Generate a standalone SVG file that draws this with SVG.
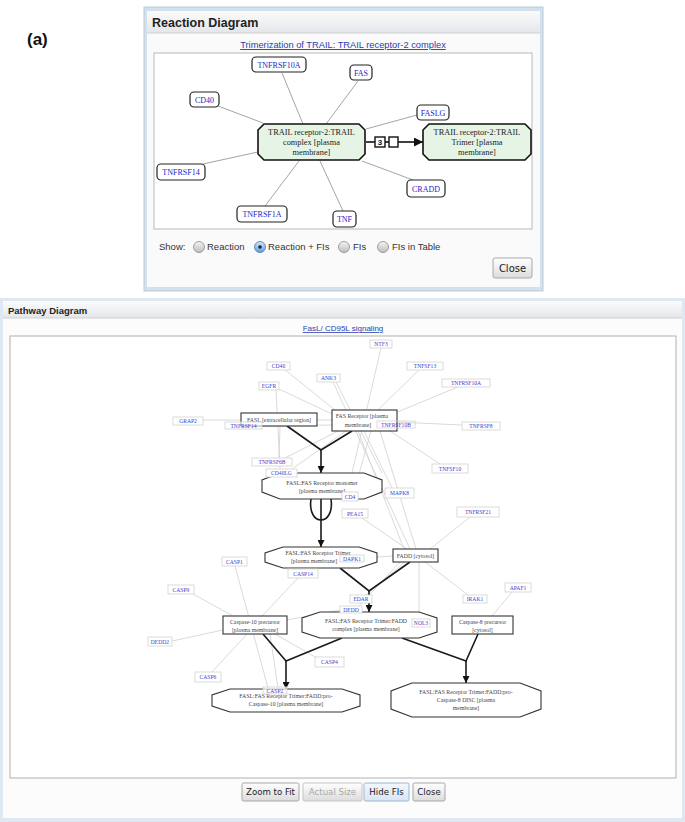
<svg xmlns="http://www.w3.org/2000/svg" width="685" height="822" viewBox="0 0 685 822">
<defs>
<linearGradient id="hdr" x1="0" y1="0" x2="0" y2="1"><stop offset="0" stop-color="#fbfbfb"/><stop offset="1" stop-color="#e3e6ea"/></linearGradient>
<linearGradient id="btn" x1="0" y1="0" x2="0" y2="1"><stop offset="0" stop-color="#ffffff"/><stop offset="1" stop-color="#dcdcdc"/></linearGradient>
<linearGradient id="btnsel" x1="0" y1="0" x2="0" y2="1"><stop offset="0" stop-color="#f3f8fd"/><stop offset="1" stop-color="#d6e6f6"/></linearGradient>
<linearGradient id="rad" x1="0" y1="0" x2="0" y2="1"><stop offset="0" stop-color="#f4f4f4"/><stop offset="1" stop-color="#bdbdbd"/></linearGradient>
<linearGradient id="radsel" x1="0" y1="0" x2="0" y2="1"><stop offset="0" stop-color="#d4e8fb"/><stop offset="1" stop-color="#5f9fdc"/></linearGradient>
<marker id="ar" viewBox="0 0 10 10" refX="10" refY="5" markerWidth="7" markerHeight="7" orient="auto" markerUnits="userSpaceOnUse"><path d="M0,0 L10,5 L0,10 z" fill="#111"/></marker>
<marker id="arA" viewBox="0 0 10 10" refX="10" refY="5" markerWidth="9" markerHeight="9" orient="auto" markerUnits="userSpaceOnUse"><path d="M0,0 L10,5 L0,10 z" fill="#111"/></marker>
</defs>
<style>
.lbl{font-family:"Liberation Sans",Arial,sans-serif;font-weight:bold;font-size:17px;fill:#111}
.hd{font-family:"Liberation Sans",Arial,sans-serif;font-weight:bold;fill:#222}
.link{font-family:"Liberation Sans",Arial,sans-serif;fill:#2a3fb0;text-decoration:underline;text-anchor:middle}
.afi rect{fill:#fff;stroke:#222;stroke-width:1.2}
.afi text{font-family:"Liberation Serif","Times New Roman",serif;font-size:8px;fill:#2424c8;text-anchor:middle}
.anode path{fill:#e6f4e6;stroke:#111;stroke-width:1.6}
.anode text{font-family:"Liberation Serif","Times New Roman",serif;font-size:8.3px;fill:#222;text-anchor:middle}
.agl{stroke:#9a9a9a;stroke-width:0.9}
.opt{font-family:"Liberation Sans",Arial,sans-serif;font-size:9.5px;fill:#333}
.fi rect{fill:#fff;stroke:#d2d2d2;stroke-width:0.8}
.fi text{font-family:"Liberation Serif","Times New Roman",serif;font-size:5.6px;fill:#4040cc;text-anchor:middle}
.nd rect,.nd path{fill:#fff;stroke:#333;stroke-width:1.1}
.nd text{font-family:"Liberation Serif","Times New Roman",serif;font-size:5.8px;fill:#444;text-anchor:middle}
.gl line{stroke:#d0d0d0;stroke-width:0.8}
.bk{stroke:#1a1a1a;stroke-width:1.6;fill:none}
.bt{font-family:"DejaVu Sans","Liberation Sans",sans-serif;font-size:8.6px;fill:#222;text-anchor:middle}
</style>

<rect width="685" height="822" fill="#fff"/>

<text class="lbl" x="27" y="45">(a)</text>
<text class="lbl" x="25" y="362">(b)</text>

<!-- ===== Panel (a) window ===== -->
<g id="panelA">
<rect x="144" y="7" width="399" height="284" fill="#d3e1ee" stroke="#b9c9d9" stroke-width="1"/>
<rect x="147" y="11" width="393" height="276" fill="#fafafa"/>
<rect x="147" y="11" width="393" height="22" fill="url(#hdr)"/>
<line x1="147" y1="33" x2="540" y2="33" stroke="#cfcfcf"/>
<text class="hd" x="152" y="27" font-size="12.5">Reaction Diagram</text>
<text class="link" x="343" y="48" font-size="9.3">Trimerization of TRAIL: TRAIL receptor-2 complex</text>
<rect x="154" y="53" width="378" height="176" fill="#fff" stroke="#b8b8b8" stroke-width="1"/>
</g>

<g id="connA">
<line class="agl" x1="282" y1="73" x2="303" y2="124"/>
<line class="agl" x1="358" y1="81" x2="326" y2="124"/>
<line class="agl" x1="218" y1="106" x2="263" y2="123"/>
<line class="agl" x1="417" y1="115" x2="366" y2="129"/>
<line class="agl" x1="203" y1="164" x2="258" y2="152"/>
<line class="agl" x1="413" y1="180" x2="362" y2="161"/>
<line class="agl" x1="265" y1="206" x2="299" y2="161"/>
<line class="agl" x1="343" y1="211" x2="320" y2="161"/>
<line x1="366" y1="142" x2="375" y2="142" stroke="#111" stroke-width="1.6"/>
<rect x="375" y="137" width="10" height="10" fill="#fff" stroke="#111" stroke-width="1.4"/>
<text x="380" y="145.3" font-family="Liberation Sans,Arial,sans-serif" font-size="8" font-weight="bold" text-anchor="middle" fill="#111">3</text>
<line x1="385" y1="142" x2="389" y2="142" stroke="#111" stroke-width="1.6"/>
<rect x="389" y="137" width="9" height="10" fill="#fff" stroke="#111" stroke-width="1.4"/>
<line x1="398" y1="142" x2="423" y2="142" stroke="#111" stroke-width="1.6" marker-end="url(#arA)"/>
</g>

<g id="a_TNFRSF10A" class="afi"><rect x="252" y="57" width="54" height="15" rx="4"/><text x="279" y="67.8">TNFRSF10A</text></g>
<g id="a_FAS" class="afi"><rect x="350" y="65" width="22" height="15" rx="4"/><text x="361" y="75.8">FAS</text></g>
<g id="a_CD40" class="afi"><rect x="190" y="92" width="29" height="15" rx="4"/><text x="204.5" y="102.8">CD40</text></g>
<g id="a_FASLG" class="afi"><rect x="417" y="105" width="32" height="15" rx="4"/><text x="433" y="115.8">FASLG</text></g>
<g id="a_TNFRSF14" class="afi"><rect x="157" y="164" width="48" height="16" rx="4"/><text x="181" y="175.3">TNFRSF14</text></g>
<g id="a_CRADD" class="afi"><rect x="407" y="180" width="38" height="17" rx="4"/><text x="426" y="191.5">CRADD</text></g>
<g id="a_TNFRSF1A" class="afi"><rect x="237" y="206" width="50" height="16" rx="4"/><text x="262" y="217.3">TNFRSF1A</text></g>
<g id="a_TNF" class="afi"><rect x="333" y="211" width="23" height="16" rx="4"/><text x="344.5" y="222.3">TNF</text></g>

<g id="a_complex" class="anode">
<path d="M264,124 H359 L365,130 V154 L359,160 H264 L258,154 V130 Z"/>
<text x="311.5" y="135">TRAIL receptor-2:TRAIL</text>
<text x="311.5" y="145">complex [plasma</text>
<text x="311.5" y="155">membrane]</text>
</g>
<g id="a_trimer" class="anode">
<path d="M429,124 H525 L531,130 V154 L525,160 H429 L423,154 V130 Z"/>
<text x="477" y="135">TRAIL receptor-2:TRAIL</text>
<text x="477" y="145">Trimer [plasma</text>
<text x="477" y="155">membrane]</text>
</g>

<g id="a_controls">
<text class="opt" x="159" y="250">Show:</text>
<circle cx="199" cy="247" r="5.5" fill="url(#rad)" stroke="#8a8a8a" stroke-width="0.8"/>
<text class="opt" x="207" y="250">Reaction</text>
<circle cx="260" cy="247" r="5.5" fill="url(#radsel)" stroke="#4a76a8" stroke-width="0.8"/>
<circle cx="260" cy="247" r="1.8" fill="#1b2638"/>
<text class="opt" x="268" y="250">Reaction + FIs</text>
<circle cx="344" cy="247" r="5.5" fill="url(#rad)" stroke="#8a8a8a" stroke-width="0.8"/>
<text class="opt" x="353" y="250">FIs</text>
<circle cx="383" cy="247" r="5.5" fill="url(#rad)" stroke="#8a8a8a" stroke-width="0.8"/>
<text class="opt" x="392" y="250">FIs in Table</text>
<rect x="493" y="258" width="39" height="20" rx="2" fill="url(#btn)" stroke="#a8a8a8"/>
<text x="512.5" y="272" font-family="DejaVu Sans,Liberation Sans,sans-serif" font-size="10" text-anchor="middle" fill="#222">Close</text>
</g>

<!-- ===== Panel (b) window ===== -->
<g id="panelB">
<rect x="0" y="298" width="685" height="524" fill="#dde8f3"/>
<rect x="3" y="301" width="679" height="517" fill="#fcfcfc"/>
<rect x="3" y="301" width="679" height="17" fill="url(#hdr)"/>
<line x1="3" y1="318" x2="682" y2="318" stroke="#cfcfcf"/>
<text class="hd" x="8" y="313.5" font-size="9.5">Pathway Diagram</text>
<text class="link" x="343" y="331" font-size="8">FasL/ CD95L signaling</text>
<rect x="10" y="336" width="666" height="442" fill="#fff" stroke="#b0b0b0" stroke-width="1"/>
</g>

<g id="connB">
<g class="gl">
<line x1="381" y1="348" x2="352" y2="473"/>
<line x1="420" y1="369" x2="378" y2="410"/>
<line x1="458" y1="387" x2="395" y2="413"/>
<line x1="284" y1="369" x2="335" y2="410"/>
<line x1="279" y1="389" x2="332" y2="414"/>
<line x1="276" y1="390" x2="280" y2="469"/>
<line x1="333" y1="382" x2="410" y2="549"/>
<line x1="336" y1="382" x2="382" y2="473"/>
<line x1="203" y1="420" x2="332" y2="420"/>
<line x1="262" y1="426" x2="332" y2="425"/>
<line x1="462" y1="425" x2="397" y2="422"/>
<line x1="440" y1="464" x2="390" y2="431"/>
<line x1="392" y1="488" x2="364" y2="431"/>
<line x1="354" y1="492" x2="371" y2="431"/>
<line x1="358" y1="431" x2="404" y2="549"/>
<line x1="380" y1="431" x2="416" y2="549"/>
<line x1="338" y1="431" x2="285" y2="458"/>
<line x1="346" y1="431" x2="292" y2="469"/>
<line x1="280" y1="426" x2="279" y2="458"/>
<line x1="362" y1="518" x2="407" y2="549"/>
<line x1="470" y1="517" x2="430" y2="549"/>
<line x1="393" y1="556" x2="362" y2="558"/>
<line x1="400" y1="562" x2="358" y2="607"/>
<line x1="405" y1="562" x2="366" y2="595"/>
<line x1="419" y1="562" x2="419" y2="619"/>
<line x1="425" y1="562" x2="468" y2="595"/>
<line x1="512" y1="592" x2="492" y2="616"/>
<line x1="235" y1="566" x2="268" y2="688"/>
<line x1="298" y1="578" x2="262" y2="616"/>
<line x1="193" y1="594" x2="233" y2="616"/>
<line x1="172" y1="641" x2="223" y2="630"/>
<line x1="212" y1="672" x2="247" y2="634"/>
<line x1="317" y1="658" x2="275" y2="634"/>
<line x1="287" y1="620" x2="341" y2="610"/>
<line x1="270" y1="634" x2="278" y2="688"/>
</g>
<path class="bk" d="M287,426 L321,450 L352,431"/>
<line class="bk" x1="321" y1="450" x2="321" y2="473" marker-end="url(#ar)"/>
<path class="bk" d="M311,499 C307,527 335,527 331,499"/>
<line class="bk" x1="321" y1="499" x2="321" y2="547" marker-end="url(#ar)"/>
<path class="bk" d="M340,568 L369,591 L410,562"/>
<line class="bk" x1="369" y1="591" x2="369" y2="612" marker-end="url(#ar)"/>
<path class="bk" d="M263,634 L286,661 L342,638"/>
<line class="bk" x1="286" y1="661" x2="286" y2="689" marker-end="url(#ar)"/>
<path class="bk" d="M402,638 L466,661 L478,634"/>
<line class="bk" x1="466" y1="661" x2="466" y2="683" marker-end="url(#ar)"/>
</g>

<g id="b_FASL" class="nd"><rect x="241" y="413" width="76" height="13"/><text x="279" y="421.7">FASL [extracellular region]</text></g>
<g id="b_FASR" class="nd"><rect x="332" y="410" width="65" height="21"/><text x="362" y="418">FAS Receptor [plasma</text><text x="358" y="427">membrane]</text></g>
<g id="b_monomer" class="nd"><path d="M280,473 H364 L382,480 V492 L364,499 H280 L262,492 V480 Z"/><text x="322" y="485">FASL:FAS Receptor monomer</text><text x="322" y="493">[plasma membrane]</text></g>
<g id="b_trimer" class="nd"><path d="M283,547 H359 L377,553 V562 L359,568 H283 L265,562 V553 Z"/><text x="318" y="555">FASL:FAS Receptor Trimer</text><text x="314" y="563">[plasma membrane]</text></g>
<g id="b_FADD" class="nd"><rect x="393" y="549" width="45" height="13"/><text x="415.5" y="557.7">FADD [cytosol]</text></g>
<g id="b_complex" class="nd"><path d="M320,612 H419 L437,618 V632 L419,638 H320 L302,632 V618 Z"/><text x="366" y="623">FASL:FAS Receptor Trimer:FADD</text><text x="366" y="631">complex [plasma membrane]</text></g>
<g id="b_casp10" class="nd"><rect x="223" y="616" width="64" height="18"/><text x="255" y="624">Caspase-10 precursor</text><text x="255" y="631.5">[plasma membrane]</text></g>
<g id="b_casp8" class="nd"><rect x="452" y="616" width="61" height="18"/><text x="482.5" y="624">Caspase-8 precursor</text><text x="482.5" y="631.5">[cytosol]</text></g>
<g id="b_disc10" class="nd"><path d="M230,689 H342 L360,695 V706 L342,712 H230 L212,706 V695 Z"/><text x="286" y="698">FASL:FAS Receptor Trimer:FADD:pro-</text><text x="286" y="706">Caspase-10 [plasma membrane]</text></g>
<g id="b_disc8" class="nd"><path d="M412,683 H520 L541,691 V709 L520,717 H412 L391,709 V691 Z"/><text x="466" y="694">FASL:FAS Receptor Trimer:FADD:pro-</text><text x="466" y="702">Caspase-8 DISC [plasma</text><text x="466" y="709.5">membrane]</text></g>

<g id="b_NTF3" class="fi"><rect x="370" y="340" width="22" height="8"/><text x="381" y="346">NTF3</text></g>
<g id="b_TNFSF13" class="fi"><rect x="407" y="362" width="36" height="8"/><text x="425" y="368">TNFSF13</text></g>
<g id="b_CD40" class="fi"><rect x="267" y="362" width="23" height="8"/><text x="278.5" y="368">CD40</text></g>
<g id="b_ANK3" class="fi"><rect x="317" y="374" width="23" height="8"/><text x="328.5" y="380">ANK3</text></g>
<g id="b_TNFRSF10A" class="fi"><rect x="442" y="379" width="48" height="8"/><text x="466" y="385">TNFRSF10A</text></g>
<g id="b_EGFR" class="fi"><rect x="259" y="382" width="20" height="8"/><text x="269" y="388">EGFR</text></g>
<g id="b_GRAP2" class="fi"><rect x="173" y="417" width="30" height="8"/><text x="188" y="423">GRAP2</text></g>
<g id="b_TNFRSF14" class="fi"><rect x="225" y="422" width="37" height="7" fill-opacity="0.6"/><text x="243.5" y="427.5">TNFRSF14</text></g>
<g id="b_TNFRSF10B" class="fi"><rect x="377" y="421" width="38" height="7" fill-opacity="0"/><text x="396" y="426.8">TNFRSF10B</text></g>
<g id="b_TNFRSF8" class="fi"><rect x="462" y="422" width="38" height="8"/><text x="481" y="428">TNFRSF8</text></g>
<g id="b_TNFRSF6B" class="fi"><rect x="252" y="458" width="40" height="8"/><text x="272" y="464">TNFRSF6B</text></g>
<g id="b_CD40LG" class="fi"><rect x="266" y="469" width="31" height="8"/><text x="281.5" y="475">CD40LG</text></g>
<g id="b_TNFSF10" class="fi"><rect x="432" y="464" width="36" height="9"/><text x="450" y="470.5">TNFSF10</text></g>
<g id="b_CD4" class="fi"><rect x="342" y="492" width="16" height="9"/><text x="350" y="498.5">CD4</text></g>
<g id="b_MAPK8" class="fi"><rect x="385" y="488" width="29" height="10"/><text x="399.5" y="495">MAPK8</text></g>
<g id="b_PEA15" class="fi"><rect x="342" y="509" width="26" height="9"/><text x="355" y="515.5">PEA15</text></g>
<g id="b_TNFRSF21" class="fi"><rect x="457" y="507" width="42" height="10"/><text x="478" y="514">TNFRSF21</text></g>
<g id="b_DAPK1" class="fi"><rect x="340" y="555" width="24" height="7" fill-opacity="0"/><text x="352" y="560.5">DAPK1</text></g>
<g id="b_CASP1" class="fi"><rect x="222" y="557" width="25" height="9"/><text x="234.5" y="563.5">CASP1</text></g>
<g id="b_CASP14" class="fi"><rect x="288" y="569" width="30" height="9"/><text x="303" y="575.5">CASP14</text></g>
<g id="b_CASP9" class="fi"><rect x="168" y="585" width="26" height="9"/><text x="181" y="591.5">CASP9</text></g>
<g id="b_EDAR" class="fi"><rect x="350" y="595" width="22" height="8"/><text x="361" y="601">EDAR</text></g>
<g id="b_IRAK1" class="fi"><rect x="463" y="595" width="24" height="8"/><text x="475" y="601">IRAK1</text></g>
<g id="b_APAF1" class="fi"><rect x="505" y="583" width="26" height="9"/><text x="518" y="589.5">APAF1</text></g>
<g id="b_DEDD" class="fi"><rect x="340" y="606" width="22" height="7"/><text x="351" y="611.5">DEDD</text></g>
<g id="b_NOL3" class="fi"><rect x="412" y="619" width="18" height="8" fill-opacity="0"/><text x="421" y="625">NOL3</text></g>
<g id="b_DEDD2" class="fi"><rect x="148" y="637" width="24" height="9"/><text x="160" y="643.5">DEDD2</text></g>
<g id="b_CASP4" class="fi"><rect x="315" y="657" width="29" height="10"/><text x="329.5" y="664">CASP4</text></g>
<g id="b_CASP6" class="fi"><rect x="195" y="672" width="26" height="10"/><text x="208" y="679">CASP6</text></g>
<g id="b_CASP2" class="fi"><rect x="263" y="687" width="24" height="7" fill-opacity="0.7"/><text x="275" y="692.5">CASP2</text></g>

<g id="b_buttons">
<rect x="242" y="783" width="57" height="18" rx="1.5" fill="url(#btn)" stroke="#a6a6a6"/>
<text class="bt" x="270.5" y="795.3">Zoom to Fit</text>
<rect x="303" y="783" width="59" height="18" rx="1.5" fill="url(#btn)" stroke="#c4c4c4"/>
<text class="bt" x="332.5" y="795.3" style="fill:#a8a8a8">Actual Size</text>
<rect x="364" y="783" width="45" height="18" rx="1.5" fill="url(#btnsel)" stroke="#9fb4cc"/>
<text class="bt" x="386.5" y="795.3">Hide FIs</text>
<rect x="413" y="783" width="32" height="18" rx="1.5" fill="url(#btn)" stroke="#a6a6a6"/>
<text class="bt" x="429" y="795.3">Close</text>
</g>
</svg>
